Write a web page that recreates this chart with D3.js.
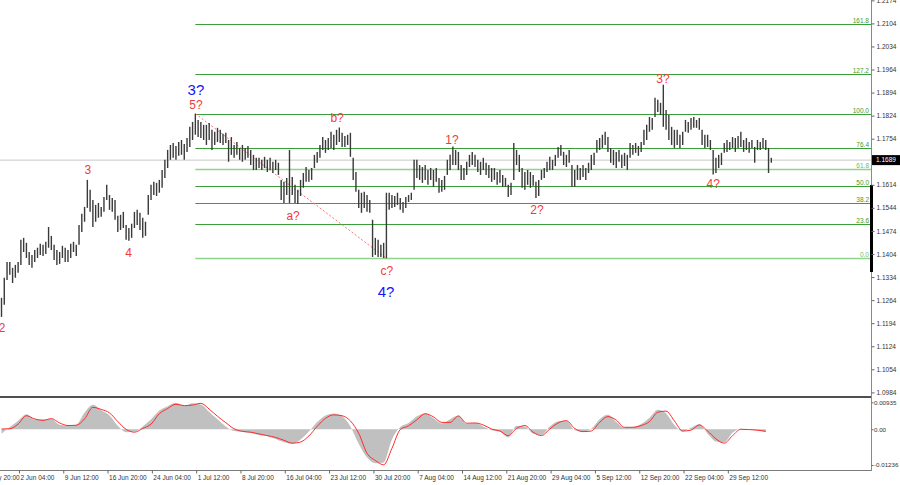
<!DOCTYPE html>
<html><head><meta charset="utf-8">
<script src="https://cdn.jsdelivr.net/npm/d3@7"></script>
<style>body{margin:0;background:#fff}svg{display:block}text{font-family:"Liberation Sans",Arial,sans-serif}</style>
</head><body><svg id="c" width="900" height="485"></svg>
<script>
// ---- data (EUR/USD, 8-hour bars) ----
const highs = [
1.1271,1.1332,1.1380,1.1380,1.1362,1.1371,1.1380,1.1447,1.1453,1.1438,
1.1410,1.1401,1.1416,1.1423,1.1435,1.1432,1.1441,1.1486,1.1459,1.1432,
1.1416,1.1410,1.1429,1.1423,1.1416,1.1435,1.1441,1.1432,1.1492,1.1526,
1.1547,1.1629,1.1599,1.1568,1.1553,1.1559,1.1547,1.1577,1.1614,1.1583,
1.1574,1.1568,1.1520,1.1523,1.1532,1.1492,1.1483,1.1496,1.1532,1.1538,
1.1529,1.1514,1.1502,1.1583,1.1614,1.1623,1.1620,1.1629,1.1659,1.1690,
1.1720,1.1735,1.1741,1.1732,1.1744,1.1750,1.1738,1.1756,1.1790,1.1805,
1.1830,1.1811,1.1805,1.1796,1.1796,1.1802,1.1781,1.1775,1.1787,1.1781,
1.1769,1.1772,1.1750,1.1759,1.1735,1.1744,1.1726,1.1735,1.1726,1.1732,
1.1720,1.1705,1.1696,1.1696,1.1690,1.1699,1.1690,1.1696,1.1684,1.1690,
1.1681,1.1629,1.1623,1.1635,1.1720,1.1638,1.1614,1.1599,1.1629,1.1650,
1.1668,1.1659,1.1665,1.1705,1.1714,1.1735,1.1759,1.1750,1.1756,1.1775,
1.1766,1.1781,1.1788,1.1772,1.1762,1.1766,1.1772,1.1696,1.1653,1.1599,
1.1590,1.1593,1.1583,1.1568,1.1508,1.1453,1.1447,1.1432,1.1438,1.1590,
1.1590,1.1583,1.1580,1.1590,1.1574,1.1562,1.1577,1.1583,1.1590,1.1690,
1.1690,1.1674,1.1668,1.1674,1.1659,1.1665,1.1659,1.1665,1.1635,1.1629,
1.1641,1.1690,1.1705,1.1730,1.1720,1.1714,1.1674,1.1665,1.1684,1.1705,
1.1714,1.1705,1.1690,1.1684,1.1696,1.1681,1.1674,1.1665,1.1665,1.1653,
1.1659,1.1644,1.1635,1.1614,1.1620,1.1741,1.1720,1.1705,1.1665,1.1653,
1.1659,1.1653,1.1644,1.1623,1.1629,1.1659,1.1665,1.1684,1.1699,1.1690,
1.1705,1.1729,1.1735,1.1714,1.1705,1.1720,1.1674,1.1659,1.1674,1.1665,
1.1674,1.1665,1.1681,1.1705,1.1711,1.1750,1.1756,1.1766,1.1775,1.1759,
1.1726,1.1720,1.1714,1.1720,1.1705,1.1711,1.1705,1.1741,1.1735,1.1741,
1.1732,1.1744,1.1781,1.1796,1.1820,1.1817,1.1878,1.1872,1.1863,1.1918,
1.1841,1.1826,1.1790,1.1781,1.1781,1.1766,1.1775,1.1811,1.1805,1.1817,
1.1820,1.1811,1.1817,1.1781,1.1766,1.1766,1.1750,1.1720,1.1696,1.1705,
1.1711,1.1741,1.1750,1.1744,1.1759,1.1756,1.1762,1.1775,1.1750,1.1756,
1.1744,1.1750,1.1729,1.1750,1.1744,1.1756,1.1750,1.1726,1.1696];
const lows = [
1.1213,1.1250,1.1325,1.1341,1.1316,1.1332,1.1347,1.1371,1.1410,1.1392,
1.1371,1.1362,1.1380,1.1392,1.1401,1.1398,1.1404,1.1423,1.1416,1.1386,
1.1371,1.1374,1.1392,1.1380,1.1380,1.1392,1.1410,1.1398,1.1432,1.1471,
1.1502,1.1544,1.1532,1.1486,1.1502,1.1514,1.1517,1.1532,1.1568,1.1538,
1.1532,1.1508,1.1471,1.1477,1.1483,1.1447,1.1444,1.1453,1.1483,1.1492,
1.1477,1.1453,1.1459,1.1523,1.1568,1.1583,1.1580,1.1590,1.1605,1.1635,
1.1665,1.1690,1.1696,1.1690,1.1702,1.1705,1.1690,1.1714,1.1729,1.1750,
1.1766,1.1759,1.1756,1.1750,1.1735,1.1750,1.1720,1.1735,1.1744,1.1741,
1.1735,1.1741,1.1684,1.1705,1.1696,1.1705,1.1690,1.1684,1.1690,1.1696,
1.1674,1.1659,1.1659,1.1665,1.1659,1.1665,1.1653,1.1659,1.1650,1.1659,
1.1644,1.1568,1.1559,1.1583,1.1559,1.1583,1.1559,1.1556,1.1580,1.1605,
1.1623,1.1623,1.1629,1.1665,1.1681,1.1696,1.1720,1.1711,1.1720,1.1726,
1.1720,1.1735,1.1744,1.1729,1.1729,1.1735,1.1699,1.1629,1.1593,1.1544,
1.1529,1.1544,1.1532,1.1529,1.1395,1.1401,1.1395,1.1395,1.1392,1.1391,
1.1538,1.1544,1.1547,1.1553,1.1538,1.1529,1.1544,1.1562,1.1568,1.1599,
1.1635,1.1629,1.1620,1.1629,1.1614,1.1629,1.1608,1.1623,1.1590,1.1593,
1.1599,1.1644,1.1659,1.1674,1.1674,1.1659,1.1629,1.1629,1.1644,1.1668,
1.1674,1.1668,1.1653,1.1644,1.1659,1.1644,1.1635,1.1623,1.1629,1.1614,
1.1620,1.1608,1.1608,1.1577,1.1583,1.1629,1.1674,1.1653,1.1605,1.1599,
1.1614,1.1605,1.1611,1.1574,1.1580,1.1629,1.1635,1.1653,1.1659,1.1659,
1.1671,1.1696,1.1702,1.1674,1.1668,1.1681,1.1608,1.1608,1.1629,1.1629,
1.1638,1.1629,1.1650,1.1659,1.1674,1.1711,1.1720,1.1726,1.1735,1.1714,
1.1681,1.1674,1.1665,1.1684,1.1665,1.1671,1.1659,1.1696,1.1705,1.1711,
1.1702,1.1714,1.1735,1.1750,1.1775,1.1781,1.1820,1.1835,1.1826,1.1790,
1.1781,1.1750,1.1735,1.1726,1.1735,1.1726,1.1735,1.1775,1.1772,1.1781,
1.1787,1.1787,1.1781,1.1735,1.1726,1.1729,1.1720,1.1645,1.1650,1.1665,
1.1674,1.1711,1.1714,1.1720,1.1726,1.1714,1.1726,1.1729,1.1714,1.1720,
1.1711,1.1726,1.1681,1.1720,1.1720,1.1726,1.1720,1.1650,1.1681];

const priceTicks = [1.2174,1.2104,1.2034,1.1964,1.1894,1.1824,1.1754,1.1614,1.1544,1.1474,1.1404,1.1334,1.1264,1.1194,1.1124,1.1054,1.0984];
const currentPrice = 1.1689;

const fibLow = 1.1391, fibHigh = 1.1830, fibStartIdx = 70;
const fibLevels = [0, 23.6, 38.2, 50, 61.8, 76.4, 100, 127.2, 161.8];
const fibLabels = ["0.0","23.6","38.2","50.0","61.8","76.4","100.0","127.2","161.8"];
const fibLight = [true,false,false,false,true,false,false,false,false];

const timeLabels = ["26 May 20:00","2 Jun 04:00","9 Jun 12:00","16 Jun 20:00","24 Jun 04:00","1 Jul 12:00","8 Jul 20:00","16 Jul 04:00","23 Jul 12:00","30 Jul 20:00","7 Aug 04:00","14 Aug 12:00","21 Aug 20:00","29 Aug 04:00","5 Sep 12:00","12 Sep 20:00","22 Sep 04:00","29 Sep 12:00"];
const timeIdx = [-8.2,6.3,22.3,38.3,54.3,70.3,86.3,102.3,118.3,134.3,150.3,166.3,182.3,198.3,214.3,230.3,246.3,262.3];

const oscIdx = [0,3,6,9,12,15,18,21,24,27,30,33,36,39,42,45,48,51,54,57,60,63,66,69,72,75,78,81,84,87,90,93,96,99,102,105,108,111,114,117,120,123,126,129,132,135,138,141,144,147,150,153,156,159,162,165,168,171,174,177,180,183,186,189,192,195,198,201,204,207,210,213,216,219,222,225,228,231,234,237,240,243,246,249,252,255,258,261,264,267,270,273,276];
const oscSignal = [0.0001,0.0002,0.0018,0.0047,0.0036,0.0031,0.0037,0.0022,0.0013,0.0014,
 0.0036,0.0076,0.0069,0.0057,0.0027,0.0000,-0.0010,0.0003,0.0018,0.0054,
 0.0072,0.0087,0.0082,0.0084,0.0090,0.0070,0.0045,0.0023,0.0002,-0.0007,
 -0.0010,-0.0016,-0.0022,-0.0028,-0.0038,-0.0048,-0.0044,-0.0023,0.0010,0.0038,
 0.0050,0.0047,0.0029,-0.0014,-0.0083,-0.0108,-0.0123,-0.0066,-0.0001,0.0012,
 0.0033,0.0054,0.0043,0.0024,0.0024,0.0046,0.0021,0.0022,0.0015,0.0001,
 -0.0006,-0.0022,0.0003,0.0013,-0.0010,-0.0022,0.0001,0.0022,0.0030,0.0003,
 -0.0008,-0.0006,0.0024,0.0044,0.0032,0.0007,0.0007,0.0013,0.0027,0.0059,
 0.0063,0.0029,-0.0006,-0.0003,0.0015,-0.0006,-0.0033,-0.0048,-0.0022,0.0000,
 -0.0001,-0.0003,-0.0007];
const oscHist = [-0.0015,0.0008,0.0030,0.0052,0.0034,0.0034,0.0036,0.0016,0.0013,0.0016,
 0.0058,0.0085,0.0066,0.0048,0.0012,-0.0010,-0.0008,0.0010,0.0035,0.0065,
 0.0080,0.0092,0.0082,0.0090,0.0086,0.0060,0.0035,0.0010,-0.0006,-0.0009,
 -0.0013,-0.0020,-0.0024,-0.0034,-0.0045,-0.0050,-0.0035,-0.0008,0.0025,0.0048,
 0.0055,0.0045,0.0010,-0.0050,-0.0098,-0.0118,-0.0115,-0.0035,0.0008,0.0022,
 0.0045,0.0055,0.0038,0.0020,0.0035,0.0048,0.0018,0.0022,0.0010,-0.0003,
 -0.0008,-0.0028,0.0012,0.0010,-0.0015,-0.0020,0.0010,0.0028,0.0030,-0.0003,
 -0.0008,0.0002,0.0035,0.0050,0.0025,0.0006,0.0008,0.0018,0.0040,0.0068,
 0.0055,0.0015,-0.0008,0.0005,0.0018,-0.0015,-0.0042,-0.0045,-0.0012,0.0002,
 -0.0001,-0.0004,-0.0010];
const oscTicks = [0.00935, 0, -0.01236];
const oscTickLabels = ["0.00935","0.00","-0.01236"];

const waveText  = ["2","3","4","5?","3?","a?","b?","c?","4?","1?","2?","3?","4?"];
const waveIdx   = [0.2,31.2,45.9,70.2,70.2,105.3,121.2,139.2,138.9,162.7,193.4,238.9,257];
const wavePrice = [1.1168,1.1647,1.1395,1.1844,1.1887,1.1508,1.1805,1.1341,1.1274,1.1738,1.1526,1.1923,1.1605];
const waveMajor = [false,false,false,false,true,false,false,false,true,false,false,false,false];

// ---- drawing ----
const svg = d3.select("#c");
const AX = 871;
const x = d3.scaleLinear().domain([0, 314]).range([1.5, AX]);
const y = d3.scaleLinear().domain([1.0973, 1.2175]).range([396, 0]);
const oy = d3.scaleLinear().domain([-0.0141, 0.0105]).range([470, 399]);

// current price line
svg.append("line").attr("x1",0).attr("x2",AX).attr("y1",y(currentPrice)).attr("y2",y(currentPrice))
  .attr("stroke","#c8c8c8").attr("stroke-width",1);

// fib lines
const fx0 = x(fibStartIdx);
fibLevels.forEach((lv,i)=>{
  const p = fibLow + (fibHigh-fibLow)*lv/100;
  const yy = Math.round(y(p))+0.5;
  svg.append("line").attr("x1",fx0).attr("x2",AX).attr("y1",yy).attr("y2",yy)
    .attr("stroke", fibLight[i] ? "#8ed48e" : "#3a9e3a").attr("stroke-width", fibLight[i]?1.6:1.1);
  svg.append("text").attr("x",AX-2).attr("y",yy-1.5).attr("text-anchor","end")
    .attr("font-size","6.5px").attr("fill", fibLight[i] ? "#6cbf5c" : "#3f9a2a").text(fibLabels[i]);
});

// dotted correction line
svg.append("line").attr("x1",x(70)).attr("y1",y(highs[70])).attr("x2",x(139)).attr("y2",y(lows[139]))
  .attr("stroke","#ff7070").attr("stroke-width",1).attr("stroke-dasharray","2,2");

// bars
svg.append("g").selectAll("line").data(highs).join("line")
  .attr("x1",(d,i)=>x(i)).attr("x2",(d,i)=>x(i))
  .attr("y1",d=>y(d)).attr("y2",(d,i)=>y(lows[i]))
  .attr("stroke","#3a3a3a").attr("stroke-width",1.4);

// wave labels
waveText.forEach((t,i)=>{
  svg.append("text").attr("x",x(waveIdx[i])).attr("y",y(wavePrice[i])).attr("text-anchor","middle")
    .attr("font-size", waveMajor[i] ? "15px" : "12px")
    .attr("fill", waveMajor[i] ? "#1414ff" : "#f23a3a").text(t);
});

// oscillator
const histArea = d3.area().x((d,i)=>x(oscIdx[i])).y0(oy(0)).y1(d=>oy(d)).curve(d3.curveMonotoneX);
svg.append("path").datum(oscHist).attr("d",histArea).attr("fill","#c0c0c0");
const sigLine = d3.line().x((d,i)=>x(oscIdx[i])).y(d=>oy(d)).curve(d3.curveMonotoneX);
svg.append("path").datum(oscSignal).attr("d",sigLine).attr("fill","none").attr("stroke","#ff2a2a").attr("stroke-width",1);

// frames
svg.append("line").attr("x1",0).attr("x2",AX).attr("y1",397).attr("y2",397).attr("stroke","#505050").attr("stroke-width",2);
svg.append("line").attr("x1",0).attr("x2",AX+0.5).attr("y1",470.5).attr("y2",470.5).attr("stroke","#7a7a7a").attr("stroke-width",1);
svg.append("line").attr("x1",AX+0.5).attr("x2",AX+0.5).attr("y1",0).attr("y2",471).attr("stroke","#8a8a8a").attr("stroke-width",1);
svg.append("rect").attr("x",AX-1).attr("y",185).attr("width",3).attr("height",87).attr("fill","#000");

// right price axis
const ra = svg.append("g").attr("transform",`translate(${AX+0.5},0)`)
  .call(d3.axisRight(y).tickValues(priceTicks).tickSize(3).tickPadding(2).tickFormat(d3.format(".4f")));
ra.select(".domain").remove();
ra.selectAll("line").attr("stroke","#666");
ra.selectAll("text").attr("font-size","6.5px").attr("fill","#333").attr("font-family","Liberation Sans, Arial, sans-serif");

// current price tag
svg.append("rect").attr("x",AX+1).attr("y",y(currentPrice)-5).attr("width",28).attr("height",10).attr("fill","#000");
svg.append("text").attr("x",AX+5).attr("y",y(currentPrice)+2.3).attr("font-size","6.5px").attr("fill","#fff").text(currentPrice.toFixed(4));

// oscillator axis
const oa = svg.append("g").attr("transform",`translate(${AX+0.5},0)`)
  .call(d3.axisRight(oy).tickValues(oscTicks).tickSize(2).tickPadding(0.5).tickFormat((d,i)=>oscTickLabels[i]));
oa.select(".domain").remove();
oa.selectAll("line").attr("stroke","#666");
oa.selectAll("text").attr("font-size","6.2px").attr("fill","#333").attr("font-family","Liberation Sans, Arial, sans-serif");

// time axis
const ta = svg.append("g").attr("transform","translate(0,470.5)")
  .call(d3.axisBottom(x).tickValues(timeIdx).tickSize(3).tickPadding(2).tickFormat((d,i)=>timeLabels[i]));
ta.select(".domain").remove();
ta.selectAll("line").attr("stroke","#666");
ta.selectAll("text").attr("text-anchor","start").attr("dx","1").attr("font-size","6.5px").attr("fill","#333")
  .attr("font-family","Liberation Sans, Arial, sans-serif");
</script></body></html>
